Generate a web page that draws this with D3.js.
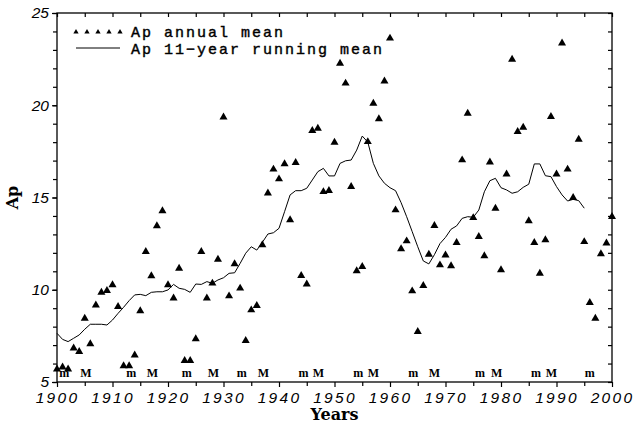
<!DOCTYPE html>
<html>
<head>
<meta charset="utf-8">
<script src="https://cdn.jsdelivr.net/npm/d3@7"></script>
<style>
  body { margin: 0; background: #fff; }
  .tick text { font-family: "Liberation Sans", Arial, sans-serif; font-style: italic; font-size: 15.5px; letter-spacing: 2.3px; fill: #000; }
</style>
</head>
<body>
<div id="chart"></div>
<script>
// years of the annual values
const years = d3.range(1900, 2001);

// Ap annual mean, 1900-2000
const apAnnual = [
    5.7, 5.8, 5.7, 6.83, 6.64, 8.45, 7.06, 9.17, 9.86, 9.95,
    10.26, 9.08, 5.87, 5.87, 6.46, 8.85, 12.06, 10.75, 13.46, 14.27,
    10.26, 9.54, 11.16, 6.16, 6.16, 7.33, 12.06, 9.54, 10.35, 11.65,
    19.35, 9.66, 11.4, 10.08, 7.24, 8.9, 9.14, 12.43, 15.23, 16.53,
    16.0, 16.82, 13.78, 16.89, 10.76, 10.3, 18.62, 18.75, 15.31, 15.37,
    17.99, 22.27, 21.19, 15.59, 11.02, 11.25, 18.02, 20.1, 19.26, 21.31,
    23.63, 14.32, 12.21, 12.64, 9.93, 7.73, 10.22, 11.92, 13.47, 11.34,
    11.88, 11.29, 12.55, 17.03, 19.56, 13.9, 12.88, 11.83, 16.91, 14.41,
    11.07, 16.26, 22.49, 18.57, 18.8, 13.73, 12.55, 10.89, 12.7, 19.38,
    16.27, 23.36, 16.53, 14.99, 18.15, 12.6, 9.3, 8.45, 11.94, 12.52,
    13.96
];

// 11-year running mean, 1900-1995
const runYears = d3.range(1900, 1996);
const apRunning = [
    7.64, 7.31, 7.19, 7.37, 7.55, 7.86, 8.13, 8.13, 8.13, 8.09,
    8.36, 8.72, 9.05, 9.41, 9.72, 9.75, 9.68, 9.86, 9.89, 9.89,
    9.99, 10.29, 10.08, 10.02, 9.86, 10.31, 10.29, 10.44, 10.35, 10.53,
    10.65, 10.89, 10.92, 11.43, 11.98, 12.33, 12.15, 12.57, 13.02, 13.09,
    13.33, 14.23, 15.14, 15.37, 15.37, 15.5, 15.95, 16.4, 16.58, 16.17,
    16.17, 16.85, 16.99, 17.03, 17.57, 18.33, 18.0, 16.85, 16.17, 15.77,
    15.53, 15.37, 14.72, 13.96, 13.15, 12.33, 11.56, 11.4, 11.9, 12.5,
    12.84, 13.28, 13.46, 13.87, 13.96, 13.93, 14.32, 15.31, 15.91, 16.04,
    15.53, 15.41, 15.23, 15.31, 15.55, 15.72, 16.82, 16.82, 16.18, 16.13,
    15.59, 15.14, 14.81, 14.9, 14.83, 14.42
];

// solar cycle minima (m) and maxima (M)
const cycleMin = [1901.3, 1913.4, 1923.4, 1933.3, 1944.4, 1954.3, 1964.2, 1976.2, 1986.3, 1996.0];
const cycleMax = [1905.2, 1917.2, 1928.2, 1937.2, 1947.1, 1957.0, 1968.0, 1979.2, 1989.1];

const legendLabels = ['Ap annual mean', 'Ap 11\u2212year running mean'];

const W = 633, H = 424;
const margin = { top: 13, right: 21, bottom: 42, left: 57 };
const width = W - margin.left - margin.right;
const height = H - margin.top - margin.bottom;

const svg = d3.select('#chart').append('svg')
    .attr('width', W)
    .attr('height', H);

const g = svg.append('g')
    .attr('transform', 'translate(' + margin.left + ',' + margin.top + ')');

const x = d3.scaleLinear().domain([1900, 2000]).range([0, width]);
const y = d3.scaleLinear().domain([5, 25]).range([height, 0]);

// bottom axis, labels every 10 years, minor ticks at 5
g.append('g')
    .attr('transform', 'translate(0,' + height + ')')
    .call(d3.axisBottom(x).tickValues(d3.range(1900, 2001, 10)).tickSize(5).tickPadding(5).tickFormat(d3.format('d')))
    .call(a => a.select('.domain').remove());
g.append('g')
    .attr('transform', 'translate(0,' + height + ')')
    .call(d3.axisBottom(x).tickValues(d3.range(1905, 2000, 10)).tickSize(4).tickFormat(''))
    .call(a => a.select('.domain').remove());

// top axis, ticks inward
g.append('g')
    .call(d3.axisTop(x).tickValues(d3.range(1900, 2001, 5)).tickSize(-4).tickFormat(''))
    .call(a => a.select('.domain').remove());

// left axis
g.append('g')
    .call(d3.axisLeft(y).tickValues(d3.range(5, 26, 5)).tickSize(5).tickPadding(3))
    .call(a => a.select('.domain').remove())
    .call(a => a.selectAll('.tick text').style('letter-spacing', '0px'));
g.append('g')
    .call(d3.axisLeft(y).tickValues(d3.range(5, 26, 1)).tickSize(4).tickFormat(''))
    .call(a => a.select('.domain').remove());

// right axis, ticks inward
g.append('g')
    .attr('transform', 'translate(' + width + ',0)')
    .call(d3.axisRight(y).tickValues(d3.range(5, 26, 1)).tickSize(-4).tickFormat(''))
    .call(a => a.select('.domain').remove());

g.selectAll('.tick line').attr('stroke', '#000').attr('stroke-width', 1.2);

// frame
g.append('rect')
    .attr('width', width)
    .attr('height', height)
    .attr('fill', 'none')
    .attr('stroke', '#000')
    .attr('stroke-width', 1.3);

// running mean line
const line = d3.line()
    .x((d, i) => x(runYears[i]))
    .y(d => y(d));

g.append('path')
    .datum(apRunning)
    .attr('d', line)
    .attr('fill', 'none')
    .attr('stroke', '#000')
    .attr('stroke-width', 1);

// annual triangles
const tri = d3.symbol().type(d3.symbolTriangle).size(28);
g.selectAll('.pt')
    .data(apAnnual)
    .enter().append('path')
    .attr('class', 'pt')
    .attr('d', tri)
    .attr('transform', (d, i) => 'translate(' + x(years[i]) + ',' + y(d) + ')')
    .attr('fill', '#000');

// m / M labels along the bottom
const cyc = cycleMin.map(v => ({ t: v, s: 'm' })).concat(cycleMax.map(v => ({ t: v, s: 'M' })));
g.selectAll('.cyc')
    .data(cyc)
    .enter().append('text')
    .attr('class', 'cyc')
    .attr('x', d => x(d.t))
    .attr('y', height - 5)
    .attr('text-anchor', 'middle')
    .style('font-family', '"Liberation Serif", serif')
    .style('font-weight', 'bold')
    .style('font-size', '12px')
    .text(d => d.s);

// legend
const legTri = d3.symbol().type(d3.symbolTriangle).size(12);
const lg = svg.append('g');
lg.selectAll('.lt')
    .data(d3.range(5))
    .enter().append('path')
    .attr('d', legTri)
    .attr('transform', i => 'translate(' + (76 + i * 11) + ',32)')
    .attr('fill', '#000');
lg.append('line')
    .attr('x1', 76).attr('x2', 120)
    .attr('y1', 48).attr('y2', 48)
    .attr('stroke', '#000').attr('stroke-width', 1);
lg.selectAll('.lx')
    .data(legendLabels)
    .enter().append('text')
    .attr('x', 131)
    .attr('y', (d, i) => 37 + i * 16.5)
    .style('font-family', '"Liberation Mono", monospace')
    .style('font-size', '15px')
    .style('letter-spacing', '2px')
    .style('stroke', '#000')
    .style('stroke-width', 0.4)
    .text(d => d);

// axis titles
svg.append('text')
    .attr('x', margin.left + width / 2)
    .attr('y', 420)
    .attr('text-anchor', 'middle')
    .style('font-family', '"DejaVu Serif", serif')
    .style('font-weight', 'bold')
    .style('font-size', '16px')
    .text('Years');

svg.append('text')
    .attr('transform', 'translate(18,' + (margin.top + height / 2) + ') rotate(-90)')
    .attr('text-anchor', 'middle')
    .style('font-family', '"DejaVu Serif", serif')
    .style('font-weight', 'bold')
    .style('font-size', '16px')
    .text('Ap');
</script>
</body>
</html>
